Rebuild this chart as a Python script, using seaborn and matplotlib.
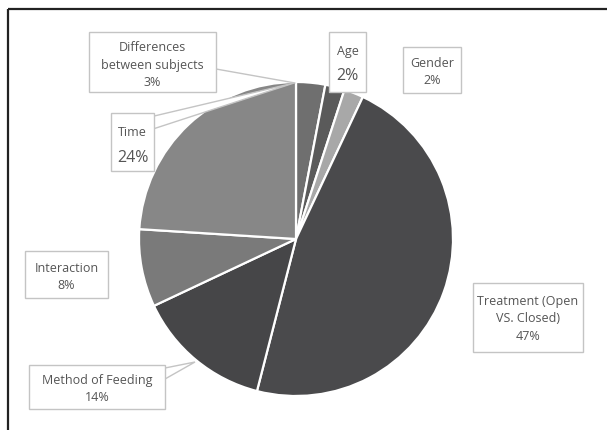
import matplotlib
matplotlib.use("Agg")
import matplotlib.pyplot as plt
import seaborn as sns
from matplotlib.patches import Rectangle, Polygon

sns.set_theme(style="white")
plt.rcParams["font.family"] = ["Open Sans", "DejaVu Sans"]

# Variance components, clockwise from 12 o'clock
categories = ["Differences\nbetween subjects", "Age", "Gender",
              "Treatment (Open\nVS. Closed)", "Method of Feeding",
              "Interaction", "Time"]
values = [3, 2, 2, 47, 14, 8, 24]
colors = ["#6f6f6f", "#5a5a5a", "#a8a8a8", "#4a4a4c", "#464648",
          "#7a7a7a", "#878787"]

W, H = 607, 431
fig = plt.figure(figsize=(W / 100, H / 100), dpi=100)

# pie axes: centre (296, 240) px, radius 157 px
cx, cy, r = 296, 240, 157
pax = fig.add_axes([(cx - r) / W, (H - cy - r) / H, 2 * r / W, 2 * r / H])
sns.despine(ax=pax, left=True, bottom=True)
pax.pie(values, colors=colors, startangle=90, counterclock=False,
        wedgeprops=dict(edgecolor="white", linewidth=1.6))
pax.set_xlim(-1, 1)
pax.set_ylim(-1, 1)
pax.set_axis_off()

# overlay in pixel coordinates for frame and label boxes
ax = fig.add_axes([0, 0, 1, 1], zorder=5)
ax.set_xlim(0, W)
ax.set_ylim(H, 0)
ax.set_axis_off()
ax.patch.set_alpha(0)

# frame (top and left edges)
ax.plot([8, W], [10, 10], color="#222222", lw=1.6, solid_capstyle="butt")
ax.plot([8, 8], [10, H], color="#222222", lw=1.6, solid_capstyle="butt")

edge = "#c4c4c4"
txt = "#555555"
fs = 9.0

def box(x0, y0, x1, y1):
    ax.add_patch(Rectangle((x0, y0), x1 - x0, y1 - y0, facecolor="white",
                           edgecolor=edge, lw=1.0, zorder=3))

def label(i, x, y, big=False):
    name = categories[i]
    pct = f"{values[i]}%"
    if big:
        ax.text(x, y - 12, name, ha="center", va="center", fontsize=fs,
                color=txt, zorder=4)
        ax.text(x, y + 13, pct, ha="center", va="center", fontsize=11.5,
                color=txt, zorder=4)
    else:
        ax.text(x, y, name + "\n" + pct, ha="center", va="center",
                fontsize=fs, color=txt, linespacing=1.42, zorder=4)

def leader(pts):
    ax.add_patch(Polygon(pts, closed=True, facecolor="white", edgecolor=edge,
                         lw=1.0, zorder=2))

# Differences between subjects
ax.plot([216, 295], [70, 84], color=edge, lw=1.0, zorder=2)
box(89, 33, 216, 93)
label(0, 152.5, 65)

# Age
box(329, 33, 366, 93)
label(1, 347.5, 63, big=True)

# Gender
box(403, 48, 461, 94)
label(2, 432, 72)

# Treatment
box(473, 284, 583, 353)
label(3, 528, 319)

# Method of Feeding
leader([(160, 370), (165, 380), (195, 363)])
box(29, 366, 165, 410)
label(4, 97, 389)

# Interaction
box(25, 252, 108, 299)
label(5, 66.5, 277)

# Time
leader([(150, 118), (153, 130), (294, 84)])
box(111, 114, 154, 172)
label(6, 132.5, 145, big=True)

fig.savefig("out.png", dpi=100, facecolor="white")
